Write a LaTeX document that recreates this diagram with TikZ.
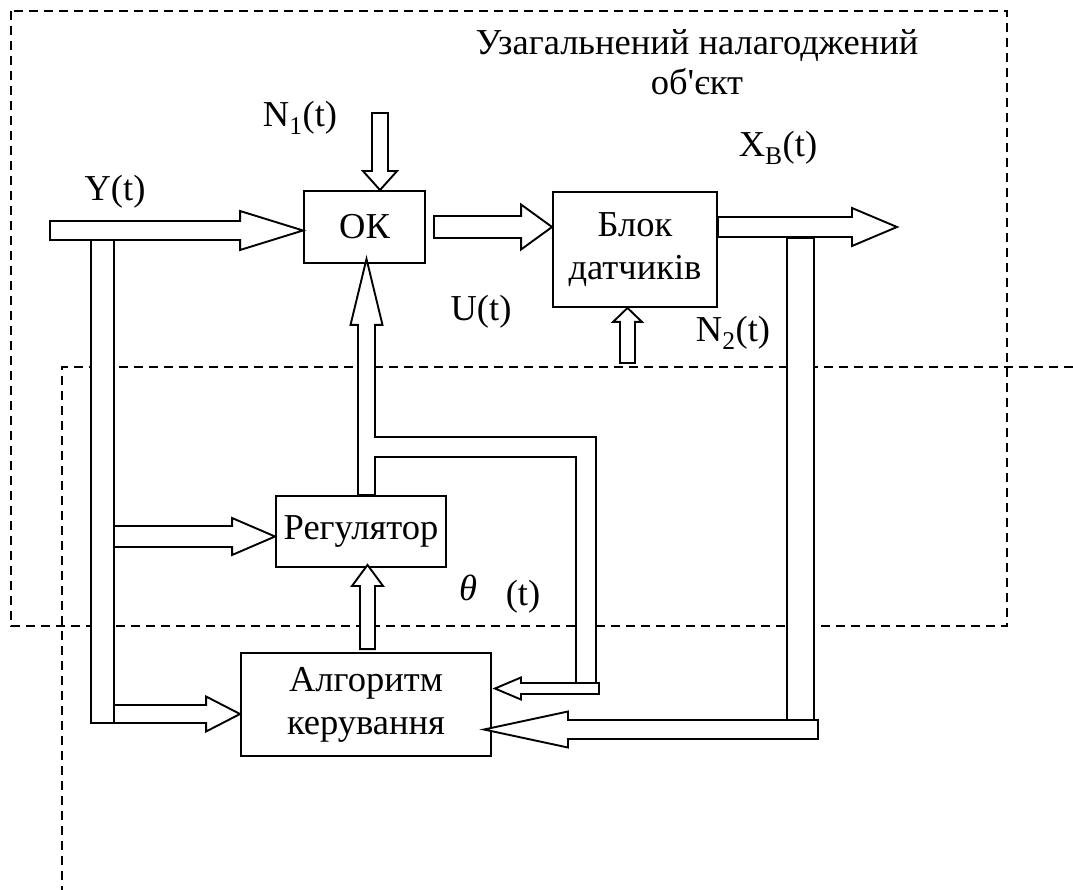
\documentclass[tikz,border=0pt]{standalone}
\usepackage{fontspec}
\setmainfont{Liberation Serif}
\usetikzlibrary{calc}

% hollow block arrow: start, tip, shaft half-width, head half-width, head length
\newcommand{\fatarrow}[5]{%
  \coordinate (fah) at ($(#2)!#5!(#1)$);
  \draw[fat] ($(#1)!#3!90:(#2)$) -- ($(fah)!#3!90:(#2)$) -- ($(fah)!#4!90:(#2)$) -- (#2)
    -- ($(fah)!#4!-90:(#2)$) -- ($(fah)!#3!-90:(#2)$) -- ($(#1)!#3!-90:(#2)$) -- cycle;}

\begin{document}
\begin{tikzpicture}[
    x=1pt, y=-1pt,
    block/.style={rectangle, draw, line width=1.9pt, inner sep=0pt, align=center, font=\fontsize{36.5}{43}\selectfont},
    fat/.style={draw, fill=white, line width=1.9pt, line join=miter},
    bus/.style={draw, fill=white, line width=1.9pt},
    band/.style={line width=1.9pt, double=white, double distance=17.6pt, line join=miter},
    frame/.style={draw, line width=1.5pt, dash pattern=on 9pt off 6pt},
    label/.style={inner sep=0pt, font=\fontsize{36.5}{43}\selectfont}
]
\useasboundingbox (0,0) rectangle (1073,890);

% Dashed contours
\draw[frame] (11,11) rectangle (1007,626);
\draw[frame] (1073,367) -- (62,367) -- (62,890);

% Blocks
\node[block, minimum width=121pt, minimum height=72pt] (ok) at (364.5,227) {ОК};
\node[block, minimum width=164pt, minimum height=115pt] (blk) at (635,249.5) {Блок\\датчиків};
\node[block, minimum width=170pt, minimum height=71pt] (reg) at (361,531.5) {Регулятор};
\node[block, minimum width=250pt, minimum height=103pt] (alg) at (366,704.5) {Алгоритм\\керування};

% Labels
\node[label, align=center, font=\fontsize{36.5}{40}\selectfont] (title) at (697,62) {Узагальнений налагоджений\\об\textquotesingle єкт};
\node[label] (n1lbl) at (300,118) {N\textsubscript{1}(t)};
\node[label] (ylbl) at (115,192) {Y(t)};
\node[label] (xlbl) at (778,148) {X\textsubscript{B}(t)};
\node[label] (ulbl) at (481,312) {U(t)};
\node[label] (n2lbl) at (733,333) {N\textsubscript{2}(t)};
\node[label] (thlbl) at (468,588) {\itshape θ};
\node[label] (tlbl) at (523,597) {(t)};

% Connection points
\coordinate (yin) at (50,230.5);
\coordinate (ytip) at (ok.west |- yin);
\coordinate (n1in) at (380,113);
\coordinate (n1tip) at (n1in |- ok.north);
\coordinate (okout) at ($(ok.east)+(8,0)$);
\coordinate (blkin) at (blk.west |- okout);
\coordinate (blkout) at (blk.east |- okout);
\coordinate (xout) at (897,227);
\coordinate (n2in) at (627.5,363);
\coordinate (n2tip) at (n2in |- blk.south);
\coordinate (uin) at ($(reg.north)+(5.5,0)$);
\coordinate (utip) at ($(ok.south)+(2,-5)$);
\coordinate (algout) at ($(alg.north)+(1.5,-3)$);
\coordinate (regin) at ($(reg.south)+(6.5,-3)$);
\coordinate (lbus) at (91,240);
\coordinate (lbusend) at (114,723);
\coordinate (rin) at (114,536.5);
\coordinate (ain) at (114,714);
\coordinate (rbus) at (787,238);
\coordinate (rbusend) at (814,720);
\coordinate (fbin) at (818,729.5);
\coordinate (tap) at (373.5,447);
\coordinate (loopin) at (599,688.5);

% Forward path
\fatarrow{yin}{ytip}{9.5pt}{19.5pt}{63pt}
\draw[bus] (lbus) rectangle (lbusend);
\fatarrow{n1in}{n1tip}{8pt}{17pt}{19pt}
\fatarrow{okout}{blkin}{11pt}{22.5pt}{31pt}
\fatarrow{blkout}{xout}{10pt}{19pt}{45pt}
\draw[bus] (rbus) rectangle (rbusend);
\fatarrow{n2in}{n2tip}{7.5pt}{14.5pt}{14pt}

% Control loop
\fatarrow{rin}{reg.west |- rin}{10.5pt}{18.5pt}{43pt}
\fatarrow{ain}{alg.west |- ain}{9pt}{17.5pt}{34pt}
\fatarrow{uin}{utip}{8.5pt}{16pt}{66pt}
\fatarrow{algout}{regin}{7.5pt}{15.5pt}{21pt}
\draw[band] (tap) -| (586,688.5);
\fatarrow{loopin}{$(alg.east |- loopin)+(3,0)$}{5.5pt}{11pt}{26pt}
\fatarrow{fbin}{$(alg.east |- fbin)+(-8,0)$}{9.5pt}{18pt}{84pt}

\end{tikzpicture}
\end{document}
